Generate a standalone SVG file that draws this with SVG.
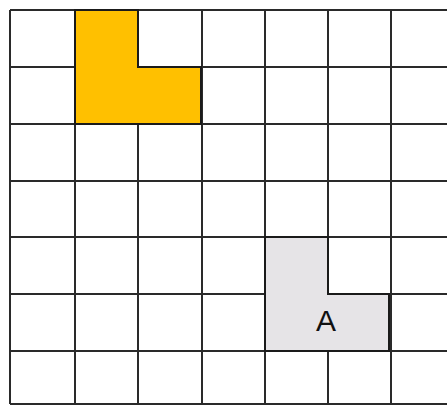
<svg xmlns="http://www.w3.org/2000/svg" width="447" height="406" viewBox="0 0 447 406">
<style>
.grid{stroke:#2a2a2a;stroke-width:2;fill:none}
.shape{stroke:#1a1a1a;stroke-width:2;stroke-linejoin:miter}
.lbl{font-family:"Liberation Sans",Arial,sans-serif;font-size:30px;fill:#111;text-anchor:middle}
</style>
<rect width="447" height="406" fill="#ffffff"/>
<g id="grid" class="grid">
<path d="M10,10H447M10,67H447M10,124H447M10,181H447M10,237H447M10,294H447M10,351H447M10,404H447"/>
<path d="M10,10V404M75,10V404M138,10V404M202,10V404M265,10V404M328,10V404M391,10V404"/>
</g>
<g id="orange-shape">
<path class="shape" fill="#FFC000" d="M75,10H138V67H201V124H75Z"/>
</g>
<g id="shape-A">
<path class="shape" fill="#E6E4E7" d="M265,237H328V294H389V351H265Z"/>
<text class="lbl" x="326" y="331">A</text>
</g>
</svg>
